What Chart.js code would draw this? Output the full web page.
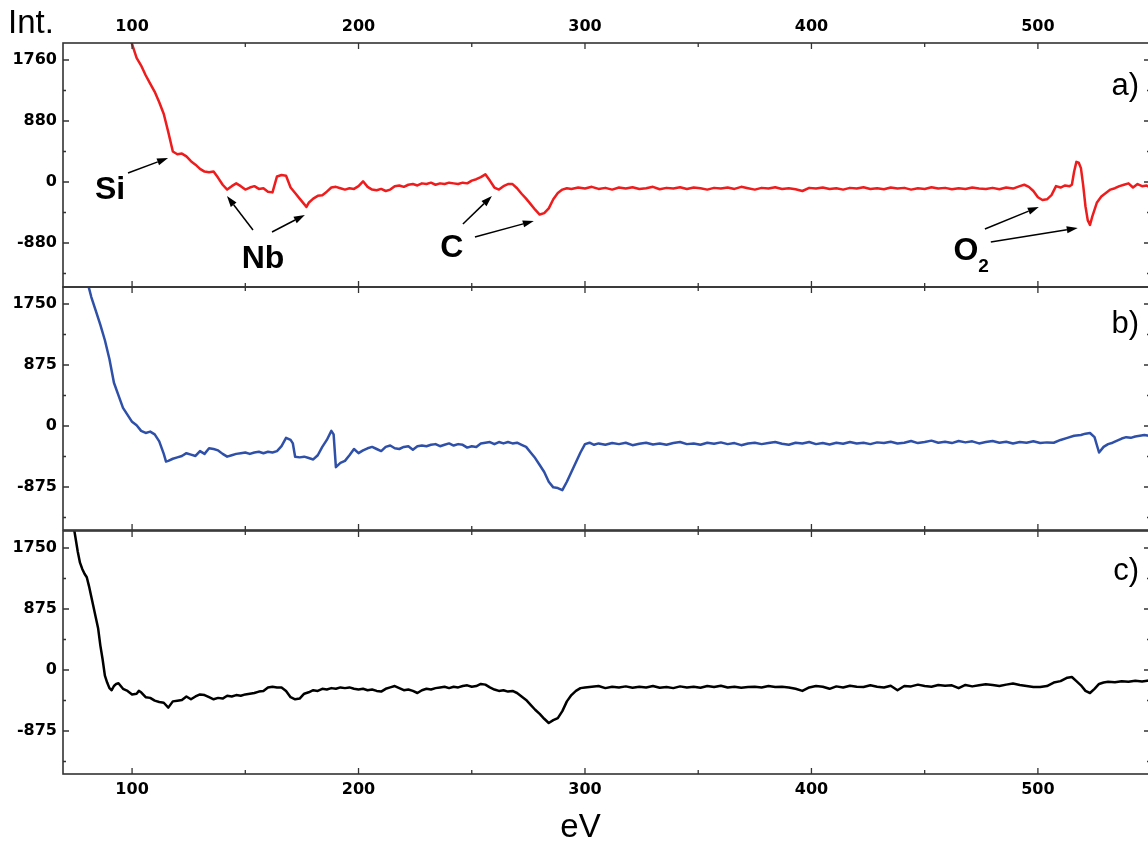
<!DOCTYPE html>
<html>
<head>
<meta charset="utf-8">
<script src="https://cdn.jsdelivr.net/npm/chart.js@4.4.1/dist/chart.umd.min.js"></script>
<style>
  html, body { margin: 0; padding: 0; background: #fff; overflow: hidden; }
  #wrap { position: relative; width: 1148px; height: 843px; overflow: hidden; }
  #wrap canvas { position: absolute; left: 0; }
</style>
</head>
<body>
<div id="wrap">
  <canvas id="chartA" width="1152" height="290" style="top:0px"></canvas>
  <canvas id="chartB" width="1152" height="250" style="top:284px"></canvas>
  <canvas id="chartC" width="1152" height="316" style="top:527px"></canvas>
</div>
<script>
// panel a) - red
const eVA = [
  98, 100, 102, 104, 106, 108, 110, 112, 114, 116,
  118, 120, 122, 124, 126, 128, 130, 132, 134, 136,
  138, 140, 142, 144, 146, 148, 150, 152, 154, 156,
  158, 160, 162, 164, 166, 168, 170, 172, 174, 176,
  177, 178, 180, 182, 184, 186, 188, 190, 192, 194,
  196, 198, 200, 202, 204, 206, 208, 210, 212, 214,
  216, 218, 220, 222, 224, 226, 228, 230, 232, 234,
  236, 238, 240, 242, 244, 246, 248, 250, 252, 254,
  256, 258, 260, 262, 264, 266, 268, 270, 272, 274,
  276, 278, 280, 282, 284, 286, 288, 290, 292, 294,
  297, 300, 303, 306, 309, 312, 315, 318, 321, 324,
  327, 330, 333, 336, 339, 342, 345, 348, 351, 354,
  357, 360, 363, 366, 369, 372, 375, 378, 381, 384,
  387, 390, 393, 396, 399, 402, 405, 408, 411, 414,
  417, 420, 423, 426, 429, 432, 435, 438, 441, 444,
  447, 450, 453, 456, 459, 462, 465, 468, 471, 474,
  477, 480, 483, 486, 489, 492, 494, 496, 498, 500,
  502, 504, 506, 508, 510, 512, 514, 515, 516, 517,
  518, 519, 520, 521, 522, 523, 524, 526, 528, 530,
  532, 534, 536, 538, 540, 542, 544, 546, 548, 550
];
const intA = [
  2150, 1990, 1790, 1680, 1540, 1420, 1300, 1150, 980, 720,
  440, 400, 410, 370, 300, 250, 190, 150, 140, 150,
  60, -40, -110, -60, -20, -60, -110, -80, -60, -100,
  -90, -140, -150, 80, 100, 90, -80, -160, -240, -320,
  -360, -300, -240, -200, -190, -140, -80, -70, -90, -110,
  -90, -100, -60, 10, -70, -110, -120, -100, -130, -110,
  -60, -50, -70, -40, -30, -50, -20, -30, -10, -40,
  -20, -30, -10, -20, -30, -10, -20, 20, 40, 70,
  110, 20, -80, -110, -60, -30, -30, -90, -170, -240,
  -320, -400, -470, -450, -380, -250, -160, -110, -90, -100,
  -80, -95, -70, -100, -85, -110, -80, -95, -75, -100,
  -90, -70, -105, -85, -95, -75, -100, -80, -90, -110,
  -85, -95, -80, -100, -70, -90, -110, -85, -95, -75,
  -100, -90, -105, -130, -85, -95, -80, -100, -90, -110,
  -85, -95, -75, -100, -90, -105, -80, -95, -85, -110,
  -90, -100, -75, -95, -85, -105, -90, -100, -80, -95,
  -100, -85, -105, -80, -95, -60, -40, -70, -130, -220,
  -260, -250, -190, -60, -80, -50, -60, -40, 150, 290,
  280, 200, -50, -350, -550, -620, -500, -300, -210, -160,
  -110, -90, -60, -40, -20, -80, -30, -60, -50, -90
];

// panel b) - blue
const eVB = [
  80, 82, 84, 86, 88, 90, 92, 94, 96, 98,
  100, 102, 104, 106, 108, 110, 112, 114, 115, 116,
  118, 120, 122, 124, 126, 128, 130, 132, 134, 136,
  138, 140, 142, 144, 146, 148, 150, 152, 154, 156,
  158, 160, 162, 164, 166, 168, 170, 171, 172, 174,
  176, 178, 180, 182, 184, 186, 188, 189, 190, 192,
  194, 196, 198, 200, 202, 204, 206, 208, 210, 212,
  214, 216, 218, 220, 222, 224, 226, 228, 230, 232,
  234, 236, 238, 240, 242, 244, 246, 248, 250, 252,
  254, 256, 258, 260, 262, 264, 266, 268, 270, 272,
  274, 276, 278, 280, 282, 284, 286, 288, 290, 292,
  294, 296, 298, 300, 302, 304, 306, 309, 312, 315,
  318, 321, 324, 327, 330, 333, 336, 339, 342, 345,
  348, 351, 354, 357, 360, 363, 366, 369, 372, 375,
  378, 381, 384, 387, 390, 393, 396, 399, 402, 405,
  408, 411, 414, 417, 420, 423, 426, 429, 432, 435,
  438, 441, 444, 447, 450, 453, 456, 459, 462, 465,
  468, 471, 474, 477, 480, 483, 486, 489, 492, 495,
  498, 501, 504, 507, 510, 513, 516, 519, 521, 523,
  525, 527, 529, 531, 533, 535, 537, 539, 541, 543,
  545, 547, 549, 551
];
const intB = [
  2100, 1850, 1650, 1450, 1230, 960, 620, 440, 260, 160,
  60, 10, -70, -100, -80, -120, -220, -400, -510, -500,
  -470, -450, -430, -390, -410, -430, -360, -400, -320, -330,
  -350, -400, -440, -420, -400, -390, -380, -400, -380, -370,
  -390, -370, -380, -360, -290, -170, -200, -250, -440, -450,
  -440, -460, -480, -420, -300, -200, -70, -120, -590, -530,
  -500, -420, -330, -390, -350, -320, -300, -330, -360, -300,
  -280, -320, -330, -300, -290, -340, -290, -280, -290, -270,
  -260, -290, -270, -250, -280, -260, -270, -310, -290, -300,
  -250, -240, -230, -260, -230, -250, -230, -250, -240, -270,
  -300, -380, -460, -560, -660, -800, -880, -890, -920, -800,
  -660, -520, -380, -260, -240, -270, -250, -270, -245, -260,
  -240, -275, -255, -240, -265, -250, -270, -245, -230, -260,
  -250, -270, -240, -255, -235, -260, -245, -275, -250, -240,
  -260, -245, -230, -255, -270, -240, -250, -230, -260, -245,
  -265, -240, -255, -230, -250, -240, -260, -235, -245, -225,
  -250, -240, -215, -245, -230, -210, -240, -225, -245, -215,
  -235, -220, -250, -230, -215, -240, -225, -250, -230, -240,
  -220, -245, -235, -240, -200, -170, -140, -130, -110, -100,
  -160, -380, -300, -260, -240, -210, -180, -160, -170, -150,
  -140, -130, -140, -120
];

// panel c) - black
const eVC = [
  74, 75, 76, 77, 78, 79, 80, 81, 82, 83,
  84, 85, 86, 87, 88, 89, 90, 91, 92, 93,
  94, 95, 96, 98, 100, 102, 103, 104, 106, 108,
  110, 112, 114, 116, 118, 120, 122, 124, 126, 128,
  130, 132, 134, 136, 138, 140, 142, 144, 146, 148,
  150, 152, 154, 156, 158, 160, 162, 164, 166, 168,
  170, 172, 174, 176, 178, 180, 182, 184, 186, 188,
  190, 192, 194, 196, 198, 200, 202, 204, 206, 208,
  210, 212, 214, 216, 218, 220, 222, 224, 226, 228,
  230, 232, 234, 236, 238, 240, 242, 244, 246, 248,
  250, 252, 254, 256, 258, 260, 262, 264, 266, 268,
  270, 272, 274, 276, 278, 280, 282, 284, 286, 288,
  290, 292, 294, 296, 298, 300, 303, 306, 309, 312,
  315, 318, 321, 324, 327, 330, 333, 336, 339, 342,
  345, 348, 351, 354, 357, 360, 363, 366, 369, 372,
  375, 378, 381, 384, 387, 390, 393, 396, 399, 402,
  405, 408, 411, 414, 417, 420, 423, 426, 429, 432,
  435, 438, 441, 444, 447, 450, 453, 456, 459, 462,
  465, 468, 471, 474, 477, 480, 483, 486, 489, 492,
  495, 498, 501, 504, 507, 510, 513, 515, 517, 519,
  521, 523, 525, 527, 529, 531, 534, 537, 540, 543,
  546, 549, 551
];
const intC = [
  2100, 1900, 1700, 1540, 1450, 1380, 1330, 1200, 1050, 900,
  750, 600, 350, 150, -80, -180, -260, -290, -230, -200,
  -190, -230, -270, -300, -350, -340, -300, -320, -390, -400,
  -440, -460, -470, -540, -450, -440, -430, -380, -420, -380,
  -350, -360, -390, -420, -400, -410, -370, -380, -360, -370,
  -350, -340, -330, -310, -300, -250, -240, -250, -250, -300,
  -390, -420, -410, -340, -320, -290, -300, -270, -280, -260,
  -270, -250, -260, -250, -270, -280, -270, -290, -280, -300,
  -310, -270, -250, -230, -260, -290, -280, -300, -330, -290,
  -270, -280, -260, -250, -240, -260, -240, -250, -230, -220,
  -240, -230, -200, -210, -250, -280, -300, -290, -310, -300,
  -330, -380, -430, -500, -570, -630, -700, -760, -720, -690,
  -590, -450, -360, -300, -260, -250, -240, -230, -260, -240,
  -250, -235, -255, -240, -250, -230, -255, -245, -260, -235,
  -250, -240, -255, -230, -245, -225, -250, -240, -255, -245,
  -240, -250, -230, -245, -240, -250, -270, -300, -250, -230,
  -240, -270, -235, -250, -225, -240, -245, -220, -240, -250,
  -225, -290, -230, -235, -210, -230, -240, -215, -225, -220,
  -260, -215, -235, -220, -205, -215, -230, -210, -195, -215,
  -230, -245, -245, -230, -180, -160, -110, -100, -160, -220,
  -300, -330, -270, -200, -180, -170, -175, -160, -170, -155,
  -165, -150, -160
];

// axis ticks
const eVTicks = [100, 200, 300, 400, 500];
const eVMinor = [150, 250, 350, 450, 550];
const yTicksA = [1760, 880, 0, -880];
const yMinorA = [1320, 440, -440, -1320];
const yTicksBC = [1750, 875, 0, -875];
const yMinorBC = [1312.5, 437.5, -437.5, -1312.5];

// annotations of panel a), in data units (eV, intensity)
const peakLabels = [
  { text: 'Si', eV: 90.3, int: -252 },
  { text: 'Nb', eV: 157.8, int: -1248 },
  { text: 'C', eV: 241.2, int: -1082 },
  { text: 'O', eV: 468.2, int: -1125, sub: '2' }
];
const peakArrows = [
  [98.2, 130, 115.9, 346],
  [153.4, -692, 141.9, -202],
  [161.8, -721, 176.3, -476],
  [246.1, -606, 258.9, -202],
  [251.4, -793, 277.4, -563],
  [476.6, -678, 500.4, -361],
  [479.2, -866, 517.6, -664]
];

const TICK_FONT = { family: '"DejaVu Sans", sans-serif', size: 16, weight: 'bold' };
const SANS = '"Liberation Sans", Arial, sans-serif';

const drawArrow = (ctx, x1, y1, x2, y2) => {
  const ang = Math.atan2(y2 - y1, x2 - x1);
  const len = 11, half = 3.6;
  const bx = x2 - len * Math.cos(ang), by = y2 - len * Math.sin(ang);
  ctx.beginPath();
  ctx.moveTo(x1, y1);
  ctx.lineTo(bx, by);
  ctx.stroke();
  ctx.beginPath();
  ctx.moveTo(x2, y2);
  ctx.lineTo(bx - half * Math.sin(ang), by + half * Math.cos(ang));
  ctx.lineTo(bx + half * Math.sin(ang), by - half * Math.cos(ang));
  ctx.closePath();
  ctx.fill();
};

// frame, inward ticks, panel letter and peak labels
const framePlugin = {
  id: 'frame',
  afterDatasetsDraw(chart, args, opts) {
    const { ctx, chartArea: a, scales } = chart;
    const x = scales.x, y = scales.y;
    ctx.save();
    ctx.strokeStyle = '#333';
    ctx.lineWidth = 1.6;
    ctx.strokeRect(a.left, a.top, a.right - a.left, a.bottom - a.top);

    ctx.lineWidth = 1.3;
    ctx.beginPath();
    eVTicks.forEach(v => {
      const px = x.getPixelForValue(v);
      ctx.moveTo(px, a.top); ctx.lineTo(px, a.top + 6);
      ctx.moveTo(px, a.bottom); ctx.lineTo(px, a.bottom - 6);
    });
    eVMinor.forEach(v => {
      const px = x.getPixelForValue(v);
      ctx.moveTo(px, a.top); ctx.lineTo(px, a.top + 4);
      ctx.moveTo(px, a.bottom); ctx.lineTo(px, a.bottom - 4);
    });
    opts.yMajor.forEach(v => {
      const py = y.getPixelForValue(v);
      ctx.moveTo(a.left, py); ctx.lineTo(a.left + 6, py);
      ctx.moveTo(a.right, py); ctx.lineTo(a.right - 6, py);
    });
    opts.yMinor.forEach(v => {
      const py = y.getPixelForValue(v);
      ctx.moveTo(a.left, py); ctx.lineTo(a.left + 3, py);
      ctx.moveTo(a.right, py); ctx.lineTo(a.right - 3, py);
    });
    ctx.stroke();

    ctx.fillStyle = '#000';
    ctx.font = '31px ' + SANS;
    ctx.textAlign = 'right';
    ctx.textBaseline = 'alphabetic';
    ctx.fillText(opts.panel, a.right - 11, a.top + opts.panelY);

    if (opts.yTitle) {
      ctx.font = '33px ' + SANS;
      ctx.textAlign = 'left';
      ctx.fillText(opts.yTitle, a.left - 55, a.top - 10);
    }

    if (opts.xTitle) {
      ctx.font = '33px ' + SANS;
      ctx.textAlign = 'center';
      ctx.fillText(opts.xTitle, x.getPixelForValue(298), a.bottom + 63);
    }

    if (opts.peaks) {
      ctx.strokeStyle = '#000';
      ctx.lineWidth = 1.5;
      peakArrows.forEach(([e1, i1, e2, i2]) => {
        drawArrow(ctx, x.getPixelForValue(e1), y.getPixelForValue(i1),
                  x.getPixelForValue(e2), y.getPixelForValue(i2));
      });
      peakLabels.forEach(p => {
        const px = x.getPixelForValue(p.eV), py = y.getPixelForValue(p.int);
        ctx.font = 'bold 32px ' + SANS;
        ctx.textAlign = 'center';
        ctx.fillText(p.text, px, py);
        if (p.sub) {
          const w = ctx.measureText(p.text).width;
          ctx.font = 'bold 19px ' + SANS;
          ctx.textAlign = 'left';
          ctx.fillText(p.sub, px + w / 2, py + 12);
        }
      });
    }
    ctx.restore();
  }
};

const makeChart = (id, eV, vals, color, cfg) => new Chart(document.getElementById(id), {
  type: 'line',
  data: {
    datasets: [{
      data: eV.map((e, i) => ({ x: e, y: vals[i] })),
      borderColor: color,
      borderWidth: 2.5,
      borderJoinStyle: 'round',
      pointRadius: 0,
      tension: 0,
      fill: false
    }]
  },
  options: {
    responsive: false,
    animation: false,
    events: [],
    layout: { padding: { top: cfg.padTop, bottom: cfg.padBottom, left: 0, right: 2 } },
    plugins: {
      legend: { display: false },
      tooltip: { enabled: false },
      frame: cfg.frame
    },
    scales: {
      x: {
        type: 'linear',
        position: cfg.xPos,
        display: cfg.xShow,
        min: 69.5,
        max: 549.5,
        afterBuildTicks: (s) => { s.ticks = eVTicks.map(v => ({ value: v })); },
        afterFit: (s) => {
          s.height = cfg.xHeight;
          s.paddingLeft = 0; s.paddingRight = 0;
        },
        grid: { display: false, drawTicks: false, tickLength: 0 },
        border: { display: false },
        ticks: {
          color: '#000',
          font: TICK_FONT,
          padding: cfg.xPad,
          maxRotation: 0,
          autoSkip: false,
          callback: (v) => String(v)
        }
      },
      y: {
        type: 'linear',
        min: cfg.yMin,
        max: cfg.yMax,
        afterBuildTicks: (s) => { s.ticks = cfg.yTicks.map(v => ({ value: v })); },
        afterFit: (s) => {
          s.width = 63;
          s.paddingTop = 0; s.paddingBottom = 0;
        },
        grid: { display: false, drawTicks: false, tickLength: 0 },
        border: { display: false },
        ticks: {
          color: '#000',
          font: TICK_FONT,
          padding: 6,
          callback: (v) => String(v)
        }
      }
    }
  },
  plugins: [framePlugin]
});

makeChart('chartA', eVA, intA, '#ee1c1c', {
  padTop: 0, padBottom: 3, xPos: 'top', xShow: true, xHeight: 43, xPad: 7,
  yMin: -1515, yMax: 2005, yTicks: yTicksA,
  frame: { yMajor: yTicksA, yMinor: yMinorA, panel: 'a)', panelY: 52, yTitle: 'Int.', peaks: true }
});

makeChart('chartB', eVB, intB, '#2f50a8', {
  padTop: 3, padBottom: 4, xPos: 'bottom', xShow: false, xHeight: 0, xPad: 0,
  yMin: -1492, yMax: 1994, yTicks: yTicksBC,
  frame: { yMajor: yTicksBC, yMinor: yMinorBC, panel: 'b)', panelY: 46 }
});

makeChart('chartC', eVC, intC, '#000000', {
  padTop: 4, padBottom: 0, xPos: 'bottom', xShow: true, xHeight: 69, xPad: 6,
  yMin: -1492, yMax: 1994, yTicks: yTicksBC,
  frame: { yMajor: yTicksBC, yMinor: yMinorBC, panel: 'c)', panelY: 49, xTitle: 'eV' }
});
</script>
</body>
</html>
